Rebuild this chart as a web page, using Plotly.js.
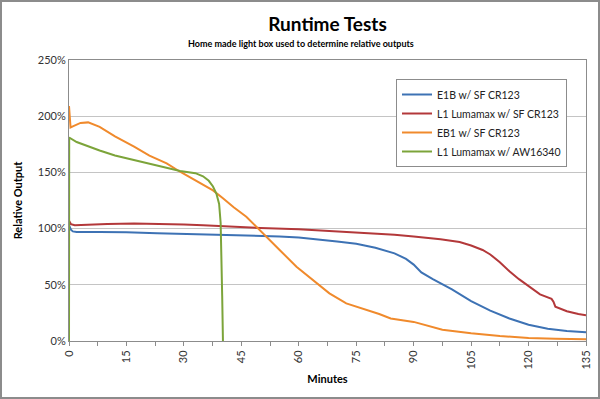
<!DOCTYPE html>
<html><head><meta charset="utf-8">
<script src="https://cdn.plot.ly/plotly-3.0.1.min.js"></script>
<style>
html,body{margin:0;padding:0;background:#fff;}
#wrap{position:relative;width:600px;height:399px;}
#chart{width:600px;height:399px;}
#frame{position:absolute;left:0;top:0;width:596px;height:395px;border:2px solid #8c8c8c;pointer-events:none;}
</style></head>
<body><div id="wrap"><div id="chart"></div><div id="frame"></div></div>
<script>
// Series data (minutes, relative output %)
const e1bT = [0, 0.5, 1, 2, 8, 15, 23, 30, 40, 45, 55, 60, 65, 70, 75, 80, 85, 88, 90, 92, 95, 100, 105, 110, 115, 120, 125, 130, 135];
const e1bV = [103, 99, 97.5, 97, 97, 96.8, 95.8, 95.3, 94.3, 94, 93, 92, 90.5, 88.5, 86.5, 83, 78, 73, 68, 61, 55, 46, 35.5, 27, 20, 14.5, 11, 9, 7.7];

const l1crT = [0, 0.5, 1.5, 5, 10, 17, 24, 30, 35, 40, 50, 60, 75, 85, 90, 97, 102, 105, 108, 110, 112.5, 115, 117.5, 120, 123, 126, 126.5, 127, 130, 133, 135];
const l1crV = [107, 104, 103, 103.5, 104, 104.5, 104.2, 103.6, 103, 102, 100.5, 99.4, 96.8, 94.5, 93, 90.5, 88, 85, 81, 77, 70, 62, 55, 48.5, 41.5, 37.5, 35, 30.5, 26.5, 24, 23];

const eb1T = [0, 0.4, 1, 3, 5, 8, 12, 17, 21, 25.5, 29, 34, 37.6, 40.2, 43, 46.3, 49.8, 52, 55, 59.4, 63.7, 68, 72.4, 76.7, 81, 84, 90, 97.5, 105, 112.5, 120, 127, 135];
const eb1V = [209, 190, 191, 194, 194.5, 190.5, 182, 173, 165, 158, 150.6, 141, 134, 127, 119, 110.6, 99, 91, 81, 66, 54, 42.4, 33.5, 29, 24, 20, 17, 10, 6.8, 4.4, 2.7, 2, 1.5];

const l1awT = [0, 0.05, 2, 5, 8, 12, 17, 21, 25.5, 29, 33, 35, 36.5, 37.6, 38.5, 39.2, 39.6, 39.8, 40, 40.2];
const l1awV = [0, 181, 177, 173, 169.5, 165, 161, 157.5, 154, 151.2, 149.3, 146.5, 142.5, 137.5, 131, 122, 105, 80, 40, 0];

const seriesNames = ["E1B w/ SF CR123", "L1 Lumamax w/ SF CR123", "EB1 w/ SF CR123", "L1 Lumamax w/ AW16340"];
const xTicks = [0, 15, 30, 45, 60, 75, 90, 105, 120, 135];
const yTicks = [0, 50, 100, 150, 200, 250];

const colors = ["#3d72b4", "#b3383a", "#f08a2c", "#7ca43a"];
const FONT = "Lato, 'Noto Sans', sans-serif";

const xs = [e1bT, l1crT, eb1T, l1awT];
const ys = [e1bV, l1crV, eb1V, l1awV];
const traces = xs.map((x, i) => ({
  x: x, y: ys[i], name: seriesNames[i], type: 'scatter', mode: 'lines',
  line: {color: colors[i], width: 2}
}));

const layout = {
  width: 600, height: 399,
  margin: {l: 69, r: 14, t: 60, b: 58},
  paper_bgcolor: '#fff', plot_bgcolor: '#fff',
  font: {family: FONT, color: '#222', size: 11},
  title: {text: '<b>Runtime Tests</b>', font: {family: FONT, size: 19, color: '#000'},
          x: 0.5, xref: 'paper', xanchor: 'center', y: 1 - 24/399, yref: 'container', yanchor: 'middle'},
  annotations: [{
    text: '<b>Home made light box used to determine relative outputs</b>',
    xref: 'paper', yref: 'paper', x: 0.5 - 27/517, y: (341 - 43) / 281,
    xanchor: 'center', yanchor: 'middle', showarrow: false,
    font: {family: FONT, size: 9, color: '#000'}
  }],
  xaxis: {
    range: [0, 135], tickvals: xTicks, ticktext: xTicks.map(String), tickangle: -90,
    showgrid: false, zeroline: false, showline: true, linecolor: '#8c8c8c', linewidth: 1, mirror: true,
    ticks: 'outside', ticklen: 4, tickcolor: '#8c8c8c',
    minor: {dtick: 7.5, tick0: 0, ticks: 'outside', ticklen: 4, tickcolor: '#8c8c8c', showgrid: false},
    tickfont: {family: FONT, size: 11, color: '#333'},
    title: {text: '<b>Minutes</b>', font: {family: FONT, size: 11, color: '#000'}, standoff: 6}
  },
  yaxis: {
    range: [0, 250], tickvals: yTicks, ticktext: yTicks.map(v => v + '%'),
    showgrid: true, gridcolor: '#c4c4c4', gridwidth: 1, zeroline: false,
    showline: true, linecolor: '#8c8c8c', linewidth: 1, mirror: true,
    ticks: '', tickfont: {family: FONT, size: 11, color: '#333'},
    title: {text: '<b>Relative Output</b>', font: {family: FONT, size: 11, color: '#000'}, standoff: 12}
  },
  legend: {
    x: (396 - 69) / 517, y: (341 - 79) / 281, xanchor: 'left', yanchor: 'top',
    bgcolor: '#fff', bordercolor: '#8c8c8c', borderwidth: 1,
    font: {family: FONT, size: 10.5, color: '#222'}, tracegroupgap: 0
  },
  showlegend: true
};

Plotly.newPlot('chart', traces, layout, {displayModeBar: false, staticPlot: true});
</script>
</body></html>
